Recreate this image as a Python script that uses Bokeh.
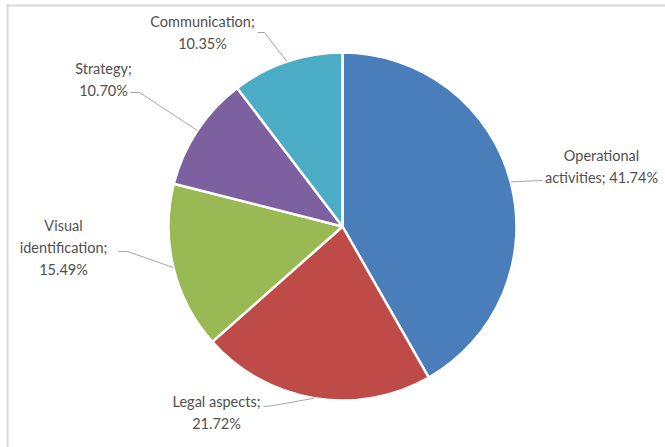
import math
from bokeh.plotting import figure
from bokeh.models import Range1d, ColumnDataSource
from bokeh.core.properties import value
from bokeh.embed import file_html
from bokeh.resources import INLINE

# ---- data ----
categories = ["Operational activities", "Legal aspects", "Visual identification", "Strategy", "Communication"]
shares = [41.74, 21.72, 15.49, 10.70, 10.35]
label_wrapped = ["Operational\nactivities", "Legal aspects", "Visual\nidentification", "Strategy", "Communication"]
label_sep = [" ", "\n", "\n", "\n", "\n"]
colors = ["#4A7EBB", "#BE4B48", "#98B954", "#7D60A0", "#4BACC6"]

# ---- layout (pixel coords, y measured from top) ----
W, H = 665, 447
CX, CY_PX, R = 342, 226, 174
label_pos = [(601, 166), (216, 412), (63, 247), (103, 79), (202, 32)]
leader_start = [(542, 180), (263, 406), (118, 251), (130, 92), (257, 32)]
leader_elbow = [(542, 180), (273, 405), (127, 251), (139, 92), (264, 32)]

def fy(ypx):
    return H - ypx

CY = fy(CY_PX)

total = sum(shares)
starts, ends, mids = [], [], []
cum = 0.0
for s in shares:
    c0 = cum / total
    cum += s
    c1 = cum / total
    starts.append(math.pi / 2 - 2 * math.pi * c1)
    ends.append(math.pi / 2 - 2 * math.pi * c0)
    mids.append(math.pi / 2 - 2 * math.pi * (c0 + c1) / 2)

p = figure(width=W, height=H, x_range=Range1d(0, W), y_range=Range1d(0, H),
           output_backend="svg", toolbar_location=None, min_border=0,
           x_axis_location=None, y_axis_location=None)
p.grid.visible = False
p.outline_line_color = None
p.background_fill_color = "white"
p.border_fill_color = "white"

# chart frame border (light gray, top and left visible)
p.line(x=[7, 7], y=[fy(4), fy(H)], line_color="#D9D9D9", line_width=2)
p.line(x=[6, W], y=[fy(5), fy(5)], line_color="#D9D9D9", line_width=2)

src = ColumnDataSource(dict(cat=categories, share=shares, start=starts, end=ends, color=colors))
p.wedge(x=CX, y=CY, radius=R, start_angle="start", end_angle="end", direction="anticlock",
        fill_color="color", line_color="white", line_width=2.5, source=src)

# leader lines
for i, m in enumerate(mids):
    ex = CX + R * math.cos(m)
    ey = CY + R * math.sin(m)
    sx, sy = leader_start[i]
    bx, by = leader_elbow[i]
    p.line(x=[sx, bx, ex], y=[fy(sy), fy(by), ey], line_color="#A6A6A6", line_width=1)

texts = [f"{w};{sep}{s:.2f}%" for w, sep, s in zip(label_wrapped, label_sep, shares)]
p.text(x=[lp[0] for lp in label_pos], y=[fy(lp[1]) for lp in label_pos], text=texts,
       text_align="center", text_baseline="middle", text_font=value("Lato"),
       text_font_size="14.5px", text_color="#505050", text_line_height=1.3)

open("out.html", "w").write(file_html(p, INLINE))
